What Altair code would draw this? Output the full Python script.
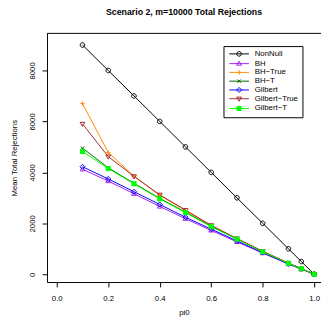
import altair as alt
import pandas as pd

pi0 = [0.1, 0.2, 0.3, 0.4, 0.5, 0.6, 0.7, 0.8, 0.9, 0.95, 1.0]
series_names = ["NonNull", "BH", "BH\u2212True", "BH\u2212T", "Gilbert", "Gilbert\u2212True", "Gilbert\u2212T"]
nonnull = [9000, 8000, 7000, 6000, 5000, 4000, 3000, 2000, 1000, 500, 0]
bh = [4120, 3660, 3160, 2660, 2180, 1720, 1270, 830, 400, 200, 0]
bh_true = [6700, 4780, 3850, 3100, 2500, 1900, 1400, 900, 430, 220, 0]
bh_t = [4950, 4180, 3570, 2980, 2440, 1880, 1390, 890, 430, 220, 0]
gilbert = [4220, 3740, 3240, 2740, 2240, 1770, 1310, 850, 410, 210, 0]
gilbert_true = [5900, 4620, 3840, 3120, 2520, 1920, 1400, 900, 440, 220, 0]
gilbert_t = [4820, 4150, 3550, 2960, 2420, 1870, 1380, 880, 430, 215, 0]

colors = ["#000000", "#A020F0", "#FF8C00", "#006400", "#0000FF", "#A52A2A", "#00FF00"]
fills = ["transparent"] * 6 + ["#00FF00"]
shapes = [
    "M1,0A1,1,0,1,1,-1,0A1,1,0,1,1,1,0Z",
    "M0,-1.1L1.05,0.7L-1.05,0.7Z",
    "M-1,0L1,0M0,-1L0,1",
    "M-0.75,-0.75L0.75,0.75M-0.75,0.75L0.75,-0.75",
    "M0,-1.1L1.1,0L0,1.1L-1.1,0Z",
    "M0,1.1L1.05,-0.7L-1.05,-0.7Z",
    "M-0.9,-0.9L0.9,-0.9L0.9,0.9L-0.9,0.9Z",
]
# legend keys: the same symbol with a line segment through it
legend_line = "M-4.3,0L4.3,0"
expr = "'circle'"
for n, s in reversed(list(zip(series_names, shapes))):
    expr = f"datum.value === '{n}' ? '{legend_line}{s}' : ({expr})"

all_vals = [nonnull, bh, bh_true, bh_t, gilbert, gilbert_true, gilbert_t]
rows = []
for name, vals in zip(series_names, all_vals):
    for p, v in zip(pi0, vals):
        rows.append({"pi0": p, "value": v, "series": name})
df = pd.DataFrame(rows)

W, H = 281, 255
xscale = alt.Scale(domain=[-0.0379, 1.0265], nice=False, zero=False)
yscale = alt.Scale(domain=[-306, 9455], nice=False, zero=False)

x = alt.X("pi0:Q", scale=xscale, title="pi0",
          axis=alt.Axis(values=[0, 0.2, 0.4, 0.6, 0.8, 1.0], format=".1f"))
y = alt.Y("value:Q", scale=yscale, title="Mean Total Rejections",
          axis=alt.Axis(values=[0, 2000, 4000, 6000, 8000], format="d",
                        labelAngle=-90, labelAlign="center", labelBaseline="bottom"))

legend = alt.Legend(orient="none", legendX=181, legendY=13, title=None, padding=4,
                    rowPadding=0, symbolSize=22, symbolStrokeWidth=1, symbolOffset=8,
                    labelFont="Liberation Sans", labelFontSize=8, labelOffset=12,
                    labelColor="black", strokeColor="black", fillColor="white",
                    cornerRadius=0, symbolType={"expr": expr})

stroke_scale = alt.Scale(domain=series_names, range=colors)
fill_scale = alt.Scale(domain=series_names, range=fills)

lines = alt.Chart(df).mark_line(strokeWidth=1, clip=True).encode(
    x=x, y=y,
    stroke=alt.Stroke("series:N", scale=stroke_scale, legend=legend),
)

point_layers = []
for name, shp in zip(series_names, shapes):
    point_layers.append(
        alt.Chart(df).transform_filter(alt.datum.series == name)
        .mark_point(size=22, strokeWidth=1, clip=True, opacity=1, shape=shp)
        .encode(
            x=x, y=y,
            stroke=alt.Stroke("series:N", scale=stroke_scale, legend=legend),
            fill=alt.Fill("series:N", scale=fill_scale, legend=legend),
        )
    )

top_border = alt.Chart(pd.DataFrame({"a": [0]})).mark_rule(color="black", strokeWidth=1).encode(
    y=alt.value(0), x=alt.value(0), x2=alt.value(W + 2)
)

chart = alt.layer(lines, *point_layers, top_border).properties(
    width=W, height=H,
    title="Scenario 2, m=10000 Total Rejections",
    autosize=alt.AutoSizeParams(type="none"),
    padding={"left": 40, "top": 22, "right": 0, "bottom": 40},
).configure_view(stroke=None).configure_axis(
    grid=False, domainColor="black", tickColor="black", labelColor="black",
    titleColor="black", labelFont="Liberation Sans", titleFont="Liberation Sans",
    labelFontSize=8, titleFontSize=8, titleFontWeight="normal", tickSize=5,
    domainWidth=1, tickWidth=1,
).configure_axisX(labelPadding=8, titlePadding=6).configure_axisY(
    labelPadding=6, titlePadding=10).configure_title(
    font="Liberation Sans", fontSize=9, fontWeight="bold", color="black",
    anchor="middle", offset=16,
)

chart.save("out.html", embed_options={"renderer": "svg", "actions": False})
